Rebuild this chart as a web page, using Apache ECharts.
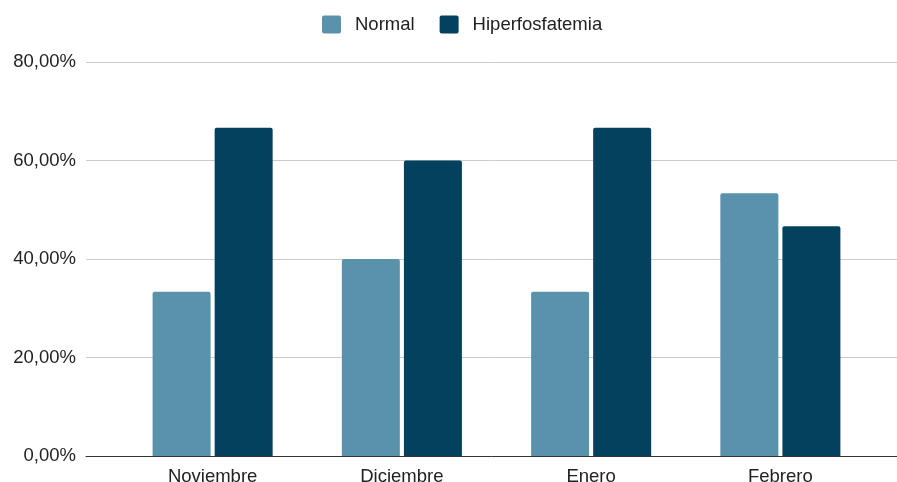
<!DOCTYPE html>
<html>
<head>
<meta charset="utf-8">
<script src="https://cdn.jsdelivr.net/npm/echarts@6/dist/echarts.min.js"></script>
<style>html,body{margin:0;padding:0;background:#fff}#c{width:897px;height:482px}</style>
</head>
<body>
<div id="c"></div>
<script>
const categories = ['Noviembre', 'Diciembre', 'Enero', 'Febrero'];
const normalValues = [33.33, 40.0, 33.33, 53.33];
const hiperValues = [66.67, 60.0, 66.67, 46.67];
const seriesNames = ['Normal', 'Hiperfosfatemia'];
const yTicks = { min: 0, max: 80, interval: 20 };

const font = '"Liberation Sans", Arial, sans-serif';
const chart = echarts.init(document.getElementById('c'));
const fmt = v => v.toFixed(2).replace('.', ',') + '%';
chart.setOption({
  animation: false,
  backgroundColor: '#fff',
  legend: {
    top: 10, left: 317,
    itemWidth: 19, itemHeight: 18, itemGap: 25,
    icon: 'path://M2,0H17A2,2 0 0 1 19,2V16A2,2 0 0 1 17,18H2A2,2 0 0 1 0,16V2A2,2 0 0 1 2,0Z',
    textStyle: { fontFamily: font, fontSize: 18.5, color: '#222', padding: [0, 0, 0, 9] },
    data: seriesNames
  },
  grid: [
    { left: 86, right: 0, top: 62, bottom: 26, outerBoundsMode: 'none', containLabel: false },
    { left: 118, right: 22, top: 62, bottom: 26, outerBoundsMode: 'none', containLabel: false }
  ],
  xAxis: [
    { type: 'category', gridIndex: 0, data: [''], axisLine: { lineStyle: { color: '#333', width: 1 } }, axisTick: { show: false }, axisLabel: { show: false }, z: 5 },
    { type: 'category', gridIndex: 1, data: categories, axisLine: { show: false }, axisTick: { show: false },
      axisLabel: { fontFamily: font, fontSize: 18.5, color: '#222', margin: 11 } }
  ],
  yAxis: [
    { type: 'value', gridIndex: 0, min: yTicks.min, max: yTicks.max, interval: yTicks.interval,
      axisLine: { show: false }, axisTick: { show: false },
      splitLine: { lineStyle: { color: '#cccccc', width: 1 } },
      axisLabel: { formatter: fmt, fontFamily: font, fontSize: 18.5, color: '#222', margin: 10 } },
    { type: 'value', gridIndex: 1, min: yTicks.min, max: yTicks.max, interval: yTicks.interval, show: false }
  ],
  series: [
    { name: seriesNames[0], type: 'bar', xAxisIndex: 1, yAxisIndex: 1, data: normalValues,
      barWidth: 58, barGap: '7%', itemStyle: { color: '#5a92ab', borderRadius: [2, 2, 0, 0] } },
    { name: seriesNames[1], type: 'bar', xAxisIndex: 1, yAxisIndex: 1, data: hiperValues,
      barWidth: 58, barGap: '7%', itemStyle: { color: '#03415f', borderRadius: [2, 2, 0, 0] } }
  ]
});
</script>
</body>
</html>
